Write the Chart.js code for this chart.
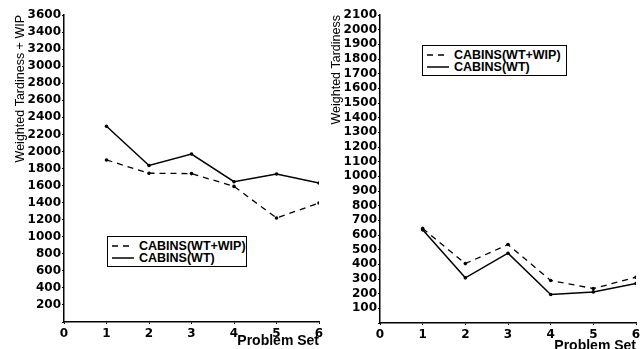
<!DOCTYPE html>
<html>
<head>
<meta charset="utf-8">
<script src="https://cdn.jsdelivr.net/npm/chart.js@4"></script>
<style>
  html, body { margin: 0; padding: 0; background: #fff; }
  #wrap { position: relative; width: 640px; height: 349px; overflow: hidden; }
  canvas { position: absolute; top: 0; }
  #leftChart { left: 0; }
  #rightChart { left: 320px; }
  .legend {
    position: absolute; box-sizing: border-box; border: 1px solid #000; background: #fff;
    font: bold 12.5px "Liberation Sans", Arial, sans-serif; color: #000; padding: 3px 0 0 4px;
  }
  .legend-row { display: flex; align-items: center; height: 12px; white-space: nowrap; }
  .legend svg { margin-right: 5px; }
</style>
</head>
<body>
<div id="wrap">
  <canvas id="leftChart" width="330" height="349"></canvas>
  <canvas id="rightChart" width="320" height="349"></canvas>

  <div class="legend" style="left:107px; top:236px; width:140px; height:31px;">
    <div class="legend-row"><svg width="22" height="4"><line x1="0" y1="2" x2="22" y2="2" stroke="#000" stroke-width="1.3" stroke-dasharray="6,5"/></svg>CABINS(WT+WIP)</div>
    <div class="legend-row"><svg width="22" height="4"><line x1="0" y1="2" x2="22" y2="2" stroke="#000" stroke-width="1.5"/></svg>CABINS(WT)</div>
  </div>
  <div class="legend" style="left:422px; top:45px; width:145px; height:31px;">
    <div class="legend-row"><svg width="22" height="4"><line x1="0" y1="2" x2="22" y2="2" stroke="#000" stroke-width="1.3" stroke-dasharray="6,5"/></svg>CABINS(WT+WIP)</div>
    <div class="legend-row"><svg width="22" height="4"><line x1="0" y1="2" x2="22" y2="2" stroke="#000" stroke-width="1.5"/></svg>CABINS(WT)</div>
  </div>
</div>

<script>
// Data
const problemSets = [1, 2, 3, 4, 5, 6];
const xTicks = [0, 1, 2, 3, 4, 5, 6];

// left panel: weighted tardiness + WIP
const leftWtWip = [1900, 1745, 1740, 1590, 1220, 1395];
const leftWt = [2295, 1835, 1970, 1645, 1735, 1630];

// right panel: weighted tardiness
const rightWtWip = [645, 405, 535, 290, 235, 312];
const rightWt = [635, 308, 476, 194, 212, 269];

const tickFont = { family: '"DejaVu Sans", sans-serif', size: 12, weight: 'bold' };

function points(values) {
    return problemSets.map((x, i) => ({ x: x, y: values[i] }));
}

function buildChart(id, cfg) {
    const ctx = document.getElementById(id).getContext('2d');
    return new Chart(ctx, {
        type: 'line',
        data: {
            datasets: [
                {
                    label: 'CABINS(WT+WIP)',
                    data: points(cfg.wip),
                    borderColor: '#000',
                    borderWidth: 1.3,
                    borderDash: [6, 5],
                    pointRadius: 1.8,
                    pointBackgroundColor: '#000',
                    pointBorderWidth: 0,
                    tension: 0
                },
                {
                    label: 'CABINS(WT)',
                    data: points(cfg.wt),
                    borderColor: '#000',
                    borderWidth: 1.5,
                    pointRadius: 1.8,
                    pointBackgroundColor: '#000',
                    pointBorderWidth: 0,
                    tension: 0
                }
            ]
        },
        options: {
            responsive: false,
            animation: false,
            layout: { padding: { left: 0, top: 15, right: cfg.padRight, bottom: 0 } },
            plugins: { legend: { display: false }, tooltip: { enabled: false } },
            scales: {
                x: {
                    type: 'linear',
                    min: 0,
                    max: 6,
                    afterBuildTicks: s => { s.ticks = xTicks.map(v => ({ value: v })); },
                    ticks: { color: '#000', font: tickFont, padding: 3, autoSkip: false, maxRotation: 0 },
                    grid: { drawOnChartArea: false, tickLength: 2, color: '#000' },
                    border: { color: '#000', width: 1.5 },
                    title: {
                        display: true, text: 'Problem Set', align: 'end', color: '#000',
                        font: { family: '"Liberation Sans", Arial, sans-serif', size: 14, weight: 'bold' },
                        padding: { top: 0, bottom: cfg.xTitleBottom }
                    },
                    afterFit: s => { s.height = cfg.xHeight; s.paddingLeft = 0; s.paddingRight = 0; }
                },
                y: {
                    min: 0,
                    max: cfg.yMax,
                    ticks: {
                        stepSize: cfg.yStep, color: '#000', font: tickFont, padding: 1, autoSkip: false,
                        callback: v => (v === 0 ? '' : v)
                    },
                    grid: { drawOnChartArea: false, tickLength: 2, color: '#000' },
                    border: { color: '#000', width: 1.5 },
                    title: {
                        display: true, text: cfg.yTitle, align: 'end', color: '#000',
                        font: { family: '"Liberation Sans", Arial, sans-serif', size: 12.5 },
                        padding: { top: cfg.yTitlePad, bottom: 0 }
                    },
                    afterFit: s => { s.width = cfg.yWidth; s.paddingTop = 0; s.paddingBottom = 0; }
                }
            }
        }
    });
}

buildChart('leftChart', {
    wip: leftWtWip, wt: leftWt, yMax: 3600, yStep: 200,
    yTitle: 'Weighted Tardiness + WIP', yTitlePad: 13,
    yWidth: 64, padRight: 11, xHeight: 27, xTitleBottom: -1
});

buildChart('rightChart', {
    wip: rightWtWip, wt: rightWt, yMax: 2100, yStep: 100,
    yTitle: 'Weighted Tardiness', yTitlePad: 9,
    yWidth: 60, padRight: 3, xHeight: 26, xTitleBottom: -6
});
</script>
</body>
</html>
